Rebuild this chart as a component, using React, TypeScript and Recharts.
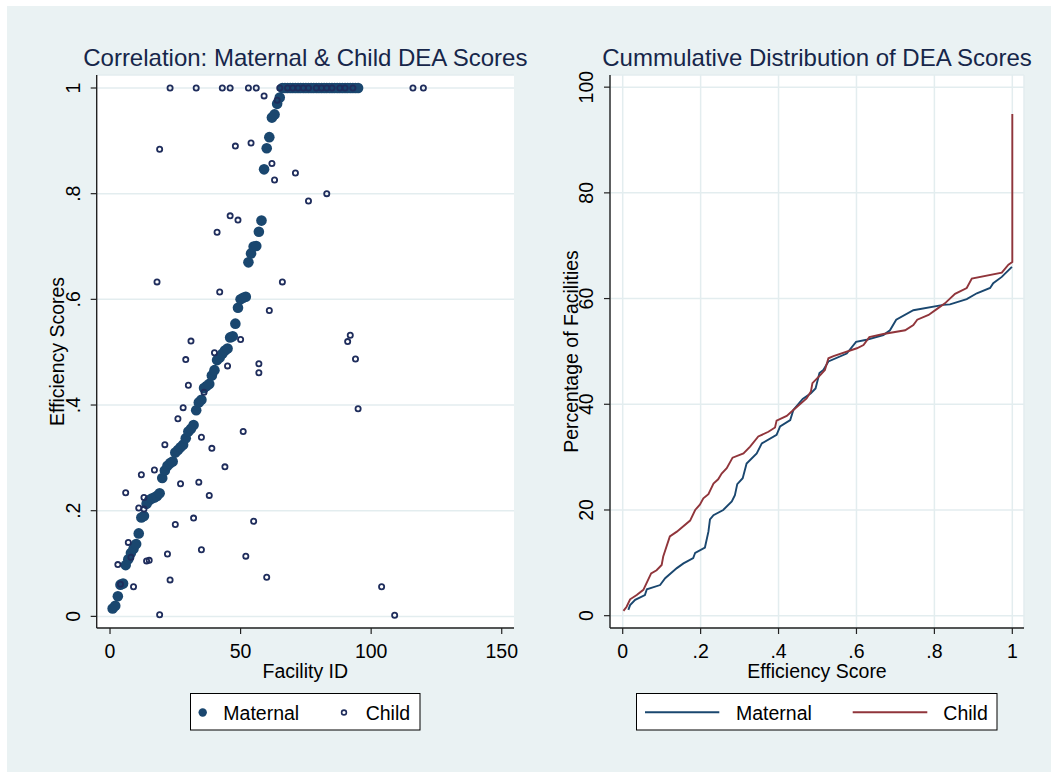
import { ScatterChart, Scatter, LineChart, Line, XAxis, YAxis, CartesianGrid } from 'recharts';

const FONT = '"Liberation Sans", Arial, Helvetica, sans-serif';
const NAVY = '#1a476f';
const MAROON = '#90353b';
const HOLLOW = '#1f2d5c';
const BG = '#eaf2f3';
const GRID = '#e3edef';
const TITLE = '#16264a';

// left panel: maternal score by facility id (ids 1..95)
const maternalScores = [
    0.015, 0.02, 0.038, 0.06, 0.062, 0.097, 0.108, 0.12, 0.128, 0.137,
    0.157, 0.187, 0.19, 0.213, 0.22, 0.223, 0.225, 0.228, 0.233, 0.262,
    0.276, 0.285, 0.29, 0.293, 0.31, 0.315, 0.32, 0.325, 0.337, 0.35,
    0.355, 0.362, 0.39, 0.405, 0.41, 0.432, 0.436, 0.44, 0.456, 0.466,
    0.485, 0.49, 0.497, 0.503, 0.507, 0.528, 0.53, 0.554, 0.584, 0.6,
    0.603, 0.605, 0.67, 0.687, 0.7, 0.701, 0.728, 0.749, 0.846, 0.886,
    0.907, 0.944, 0.95, 0.97, 0.982, 1, 1, 1, 1, 1,
    1, 1, 1, 1, 1, 1, 1, 1, 1, 1,
    1, 1, 1, 1, 1, 1, 1, 1, 1, 1,
    1, 1, 1, 1, 1,
];

const childIds = [
    23, 33, 43, 46, 53, 56, 65, 68, 70, 72, 74, 76, 79, 81, 83, 85, 88, 90, 93, 116, 120,
    59, 64, 19, 48, 54, 62, 71, 63, 83, 76, 46, 49, 41, 18, 66, 42, 61, 92, 91,
    50, 31, 94, 40, 29, 45, 57, 57, 30, 36, 95, 28, 26, 51, 21, 35, 39, 44,
    17, 12, 27, 34, 6, 38, 13, 11, 13, 32, 25, 55, 7, 8, 3, 22, 14, 15,
    35, 52, 9, 23, 60, 104, 19, 109, 4,
];
const childScores = [
    1, 1, 1, 1, 1, 1, 1, 1, 1, 1, 1, 1, 1, 1, 1, 1, 1, 1, 1, 1, 1,
    0.985, 0.977, 0.884, 0.89, 0.896, 0.857, 0.839, 0.826, 0.8, 0.786, 0.758, 0.75, 0.727, 0.633, 0.633, 0.614, 0.579, 0.532, 0.52,
    0.524, 0.521, 0.487, 0.499, 0.486, 0.474, 0.478, 0.461, 0.4375, 0.424, 0.393, 0.395, 0.374, 0.35, 0.325, 0.339, 0.318, 0.283,
    0.277, 0.268, 0.251, 0.254, 0.234, 0.229, 0.225, 0.205, 0.203, 0.186, 0.174, 0.18, 0.14, 0.112, 0.098, 0.118, 0.105, 0.106,
    0.126, 0.114, 0.056, 0.069, 0.074, 0.056, 0.003, 0.002, 0.061,
];

// right panel: cumulative distribution
const maternalCdfScore = [
    0.0145, 0.019, 0.032, 0.057, 0.062, 0.096, 0.109, 0.139, 0.156, 0.181, 0.186, 0.211,
    0.22, 0.224, 0.233, 0.258, 0.28, 0.288, 0.294, 0.308, 0.318, 0.344, 0.357, 0.395,
    0.404, 0.43, 0.438, 0.462, 0.483, 0.495, 0.505, 0.515, 0.528, 0.575, 0.599, 0.626,
    0.669, 0.686, 0.702, 0.746, 0.823, 0.84, 0.883, 0.909, 0.943, 0.951, 0.973, 0.999,
];
const maternalCdfPct = [
    1.1, 2.0, 3.0, 3.9, 5.0, 5.8, 7.1, 9.0, 9.9, 10.9, 11.9, 12.9,
    15.9, 18.2, 19.0, 20.0, 21.6, 22.8, 24.9, 26.0, 28.8, 30.7, 32.6, 34.2,
    35.8, 37.0, 38.9, 41.0, 42.1, 43.0, 45.9, 46.5, 48.1, 49.6, 51.8, 52.2,
    53.1, 54.0, 56.0, 57.8, 58.8, 58.9, 59.9, 61.0, 62.0, 62.9, 64.1, 66.0,
];
const childCdfScore = [
    0.002, 0.01, 0.019, 0.036, 0.053, 0.073, 0.087, 0.1, 0.104, 0.121, 0.139, 0.173,
    0.186, 0.198, 0.207, 0.22, 0.233, 0.245, 0.254, 0.267, 0.282, 0.31, 0.327, 0.348,
    0.374, 0.391, 0.395, 0.421, 0.438, 0.472, 0.483, 0.487, 0.507, 0.519, 0.528, 0.541,
    0.601, 0.618, 0.633, 0.669, 0.725, 0.746, 0.756, 0.785, 0.806, 0.827, 0.853, 0.883,
    0.896, 0.973, 0.99, 1.0, 1.0,
];
const childCdfPct = [
    0.9, 1.7, 3.1, 3.9, 4.9, 8.0, 8.6, 9.6, 11.2, 15.0, 15.9, 18.0,
    20.0, 21.0, 22.2, 23.0, 25.0, 25.8, 26.9, 27.9, 29.9, 30.7, 32.0, 33.9,
    34.8, 35.6, 36.9, 37.8, 38.9, 41.1, 42.4, 44.0, 45.5, 46.5, 48.7, 49.1,
    50.6, 51.2, 52.7, 53.3, 54.0, 55.0, 56.0, 56.9, 58.0, 59.1, 60.9, 62.0,
    63.8, 64.9, 66.4, 66.9, 94.9,
];

const scoreTicks = [0, 0.2, 0.4, 0.6, 0.8, 1];
const idTicks = [0, 50, 100, 150];
const pctTicks = [0, 20, 40, 60, 80, 100];

const maternalPts = maternalScores.map((v, i) => ({ id: i + 1, v }));
const childPts = childIds.map((id, i) => ({ id, v: childScores[i] }));
const maternalCdf = maternalCdfScore.map((s, i) => ({ s, p: maternalCdfPct[i] }));
const childCdf = childCdfScore.map((s, i) => ({ s, p: childCdfPct[i] }));

const fmt = (v: number) => (v === 0 ? '0' : v === 1 ? '1' : String(v).replace(/^0/, ''));

function yTick(cx: number, format: (v: number) => string) {
    return (props: any) => (
        <text transform={`translate(${cx},${props.y}) rotate(-90)`} textAnchor="middle" dy="0.35em"
            fontSize={19.5} fontFamily={FONT} fill="#000">{format(props.payload.value)}</text>
    );
}
function xTick(format: (v: number) => string) {
    return (props: any) => (
        <text x={props.x} y={658.3} textAnchor="middle" fontSize={19.5} fontFamily={FONT}
            fill="#000">{format(props.payload.value)}</text>
    );
}

const axisLine = { stroke: '#222', strokeWidth: 1.4 };
const tickLine = { stroke: '#222', strokeWidth: 1.2 };

export default function App() {
    return (
        <div style={{ position: 'absolute', left: 0, top: 0, width: 1051, height: 772, background: '#fff', fontFamily: FONT }}>
            <div style={{ position: 'absolute', left: 7, top: 6, right: 0, bottom: 0, background: BG }} />
            <div style={{ position: 'absolute', left: 0, top: 0 }}>
                <ScatterChart width={540} height={772} margin={{ top: 75, right: 26, bottom: 114, left: 66.7 }}>
                    <CartesianGrid vertical={false} stroke={GRID} strokeWidth={1.5} fill="#fff" />
                    <XAxis type="number" dataKey="id" domain={[-5.1, 154.7]} ticks={idTicks} allowDataOverflow
                        interval={0} height={30} tickSize={6} axisLine={axisLine} tickLine={tickLine}
                        tick={xTick((v) => String(v))} />
                    <YAxis type="number" dataKey="v" domain={[-0.022, 1.0246]} ticks={scoreTicks} allowDataOverflow
                        interval={0} width={30} tickSize={6} axisLine={axisLine} tickLine={tickLine}
                        tick={yTick(72.7, fmt)} />
                    <Scatter data={maternalPts} isAnimationActive={false}
                        shape={(p: any) => <circle cx={p.cx} cy={p.cy} r={5.3} fill={NAVY} />} />
                    <Scatter data={childPts} isAnimationActive={false}
                        shape={(p: any) => <circle cx={p.cx} cy={p.cy} r={2.6} fill="none" stroke={HOLLOW} strokeWidth={1.8} />} />
                </ScatterChart>
            </div>
            <div style={{ position: 'absolute', left: 540, top: 0 }}>
                <LineChart width={511} height={772} margin={{ top: 75, right: 27, bottom: 114, left: 40 }}>
                    <CartesianGrid stroke={GRID} strokeWidth={1.5} fill="#fff" />
                    <XAxis type="number" dataKey="s" domain={[-0.0326, 1.03]} ticks={scoreTicks} allowDataOverflow
                        interval={0} height={30} tickSize={6} axisLine={axisLine} tickLine={tickLine}
                        tick={xTick(fmt)} />
                    <YAxis type="number" dataKey="p" domain={[-2.33, 102.3]} ticks={pctTicks} allowDataOverflow
                        interval={0} width={30} tickSize={6} axisLine={axisLine} tickLine={tickLine}
                        tick={yTick(46, (v) => String(v))} />
                    <Line data={maternalCdf} dataKey="p" type="linear" stroke={NAVY} strokeWidth={1.9}
                        dot={false} isAnimationActive={false} />
                    <Line data={childCdf} dataKey="p" type="linear" stroke={MAROON} strokeWidth={1.9}
                        dot={false} isAnimationActive={false} />
                </LineChart>
            </div>
            <svg width={1051} height={772} style={{ position: 'absolute', left: 0, top: 0, pointerEvents: 'none' }}
                fontFamily={FONT}>
                <text x={305.3} y={66} textAnchor="middle" fontSize={24} fill={TITLE}>Correlation: Maternal &amp; Child DEA Scores</text>
                <text x={817} y={66} textAnchor="middle" fontSize={24} fill={TITLE}>Cummulative Distribution of DEA Scores</text>
                <text x={305.3} y={677.7} textAnchor="middle" fontSize={19.5} fill="#000">Facility ID</text>
                <text x={817} y={677.7} textAnchor="middle" fontSize={19.5} fill="#000">Efficiency Score</text>
                <text transform="translate(57,351.5) rotate(-90)" textAnchor="middle" dy="0.35em" fontSize={19.5} fill="#000">Efficiency Scores</text>
                <text transform="translate(571,351.5) rotate(-90)" textAnchor="middle" dy="0.35em" fontSize={19.5} fill="#000">Percentage of Facilities</text>

                <rect x={190.5} y={693.5} width={229.5} height={36.5} fill="#fff" stroke="#000" strokeWidth={1} />
                <circle cx={202.7} cy={712.5} r={4.2} fill={NAVY} />
                <text x={223.3} y={720} fontSize={19.5} fill="#000">Maternal</text>
                <circle cx={344} cy={712.5} r={2.4} fill="none" stroke={HOLLOW} strokeWidth={1.6} />
                <text x={365.7} y={720} fontSize={19.5} fill="#000">Child</text>

                <rect x={636.5} y={693.5} width={360.5} height={36.5} fill="#fff" stroke="#000" strokeWidth={1} />
                <line x1={645} y1={712.3} x2={719.3} y2={712.3} stroke={NAVY} strokeWidth={1.9} />
                <text x={736} y={720} fontSize={19.5} fill="#000">Maternal</text>
                <line x1={852.7} y1={712.3} x2={927.3} y2={712.3} stroke={MAROON} strokeWidth={1.9} />
                <text x={943.3} y={720} fontSize={19.5} fill="#000">Child</text>
            </svg>
        </div>
    );
}
